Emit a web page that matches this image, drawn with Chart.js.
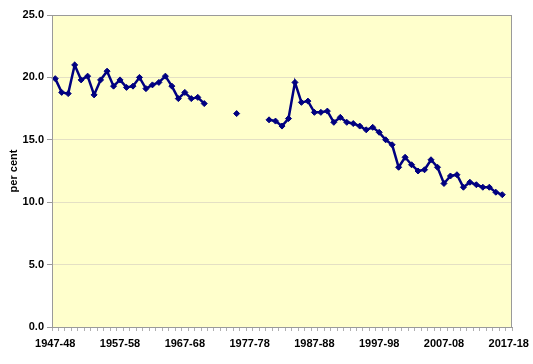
<!DOCTYPE html>
<html>
<head>
<meta charset="utf-8">
<script src="https://cdn.jsdelivr.net/npm/chart.js@4"></script>
<style>
  html, body { margin: 0; padding: 0; background: #fff; }
  #wrap { width: 533px; height: 364px; }
</style>
</head>
<body>
<div id="wrap"><canvas id="chart"></canvas></div>
<script>
// Financial years 1947-48 .. 2017-18
const years = [];
for (let y = 1947; y <= 2017; y++) {
    years.push(y + "-" + String((y + 1) % 100).padStart(2, "0"));
}

// per cent values (null = no data)
const early = [19.9, 18.8, 18.7, 21.0, 19.8, 20.1, 18.6, 19.8, 20.5, 19.3,
               19.8, 19.2, 19.3, 20.0, 19.1, 19.4, 19.6, 20.1, 19.3, 18.3,
               18.8, 18.3, 18.4, 17.9];
const gapA = [null, null, null, null];
const lone = [17.1];
const gapB = [null, null, null, null];
const late = [16.6, 16.5, 16.1, 16.7, 19.6, 18.0, 18.1, 17.2, 17.2, 17.3,
              16.4, 16.8, 16.4, 16.3, 16.1, 15.8, 16.0, 15.6, 15.0, 14.6,
              12.8, 13.6, 13.0, 12.5, 12.6, 13.4, 12.8, 11.5, 12.1, 12.2,
              11.2, 11.6, 11.4, 11.2, 11.2, 10.8, 10.6];
const tail = [null];
const values = [...early, ...gapA, ...lone, ...gapB, ...late, ...tail];

const yTicks = [0, 5, 10, 15, 20, 25];

const FONT = { family: "'Liberation Sans', Arial, sans-serif", size: 11, weight: "bold" };

// yellow plot background and grey frame
const plotFrame = {
    id: "plotFrame",
    beforeDraw(chart) {
        const { ctx, chartArea: a } = chart;
        ctx.save();
        ctx.fillStyle = "#ffffcc";
        ctx.fillRect(a.left, a.top, a.right - a.left, a.bottom - a.top);
        ctx.restore();
    },
    afterDraw(chart) {
        const { ctx, chartArea: a } = chart;
        ctx.save();
        ctx.strokeStyle = "#9a9a9a";
        ctx.lineWidth = 1;
        ctx.strokeRect(a.left + 0.5, a.top + 0.5, a.right - a.left - 1, a.bottom - a.top);
        ctx.restore();
    }
};

new Chart(document.getElementById("chart"), {
    type: "line",
    data: {
        labels: years,
        datasets: [{
            data: values,
            borderColor: "#000080",
            backgroundColor: "#000080",
            borderWidth: 2.5,
            pointStyle: "rectRot",
            pointRadius: 3,
            pointBorderWidth: 1,
            tension: 0,
            spanGaps: false
        }]
    },
    options: {
        responsive: true,
        maintainAspectRatio: false,
        animation: false,
        layout: { padding: { left: 0, right: 21, top: 15, bottom: 0 } },
        plugins: {
            legend: { display: false },
            tooltip: { enabled: false }
        },
        scales: {
            x: {
                type: "category",
                offset: true,
                grid: {
                    offset: true,
                    drawOnChartArea: false,
                    drawTicks: true,
                    tickLength: 4,
                    color: "#b0b0b0"
                },
                border: { color: "#9a9a9a" },
                ticks: {
                    autoSkip: false,
                    maxRotation: 0,
                    minRotation: 0,
                    padding: 6,
                    color: "#000",
                    font: FONT,
                    callback: (v, i) => (i % 10 === 0 ? years[i] : "")
                },
                afterFit(scale) {
                    scale.height = 37;
                    scale.paddingLeft = 0;
                    scale.paddingRight = 0;
                }
            },
            y: {
                min: yTicks[0],
                max: yTicks[yTicks.length - 1],
                afterBuildTicks(scale) { scale.ticks = yTicks.map(v => ({ value: v })); },
                grid: {
                    color: "#e4e0c4",
                    tickColor: "#9a9a9a",
                    tickLength: 5
                },
                border: { color: "#9a9a9a" },
                ticks: {
                    padding: 3,
                    color: "#000",
                    font: FONT,
                    callback: v => v.toFixed(1)
                },
                title: {
                    display: true,
                    text: "per cent",
                    color: "#000",
                    font: FONT,
                    padding: { top: 7, bottom: 0 }
                },
                afterFit(scale) {
                    scale.width = 52;
                    scale.paddingTop = 0;
                    scale.paddingBottom = 0;
                }
            }
        }
    },
    plugins: [plotFrame]
});
</script>
</body>
</html>
